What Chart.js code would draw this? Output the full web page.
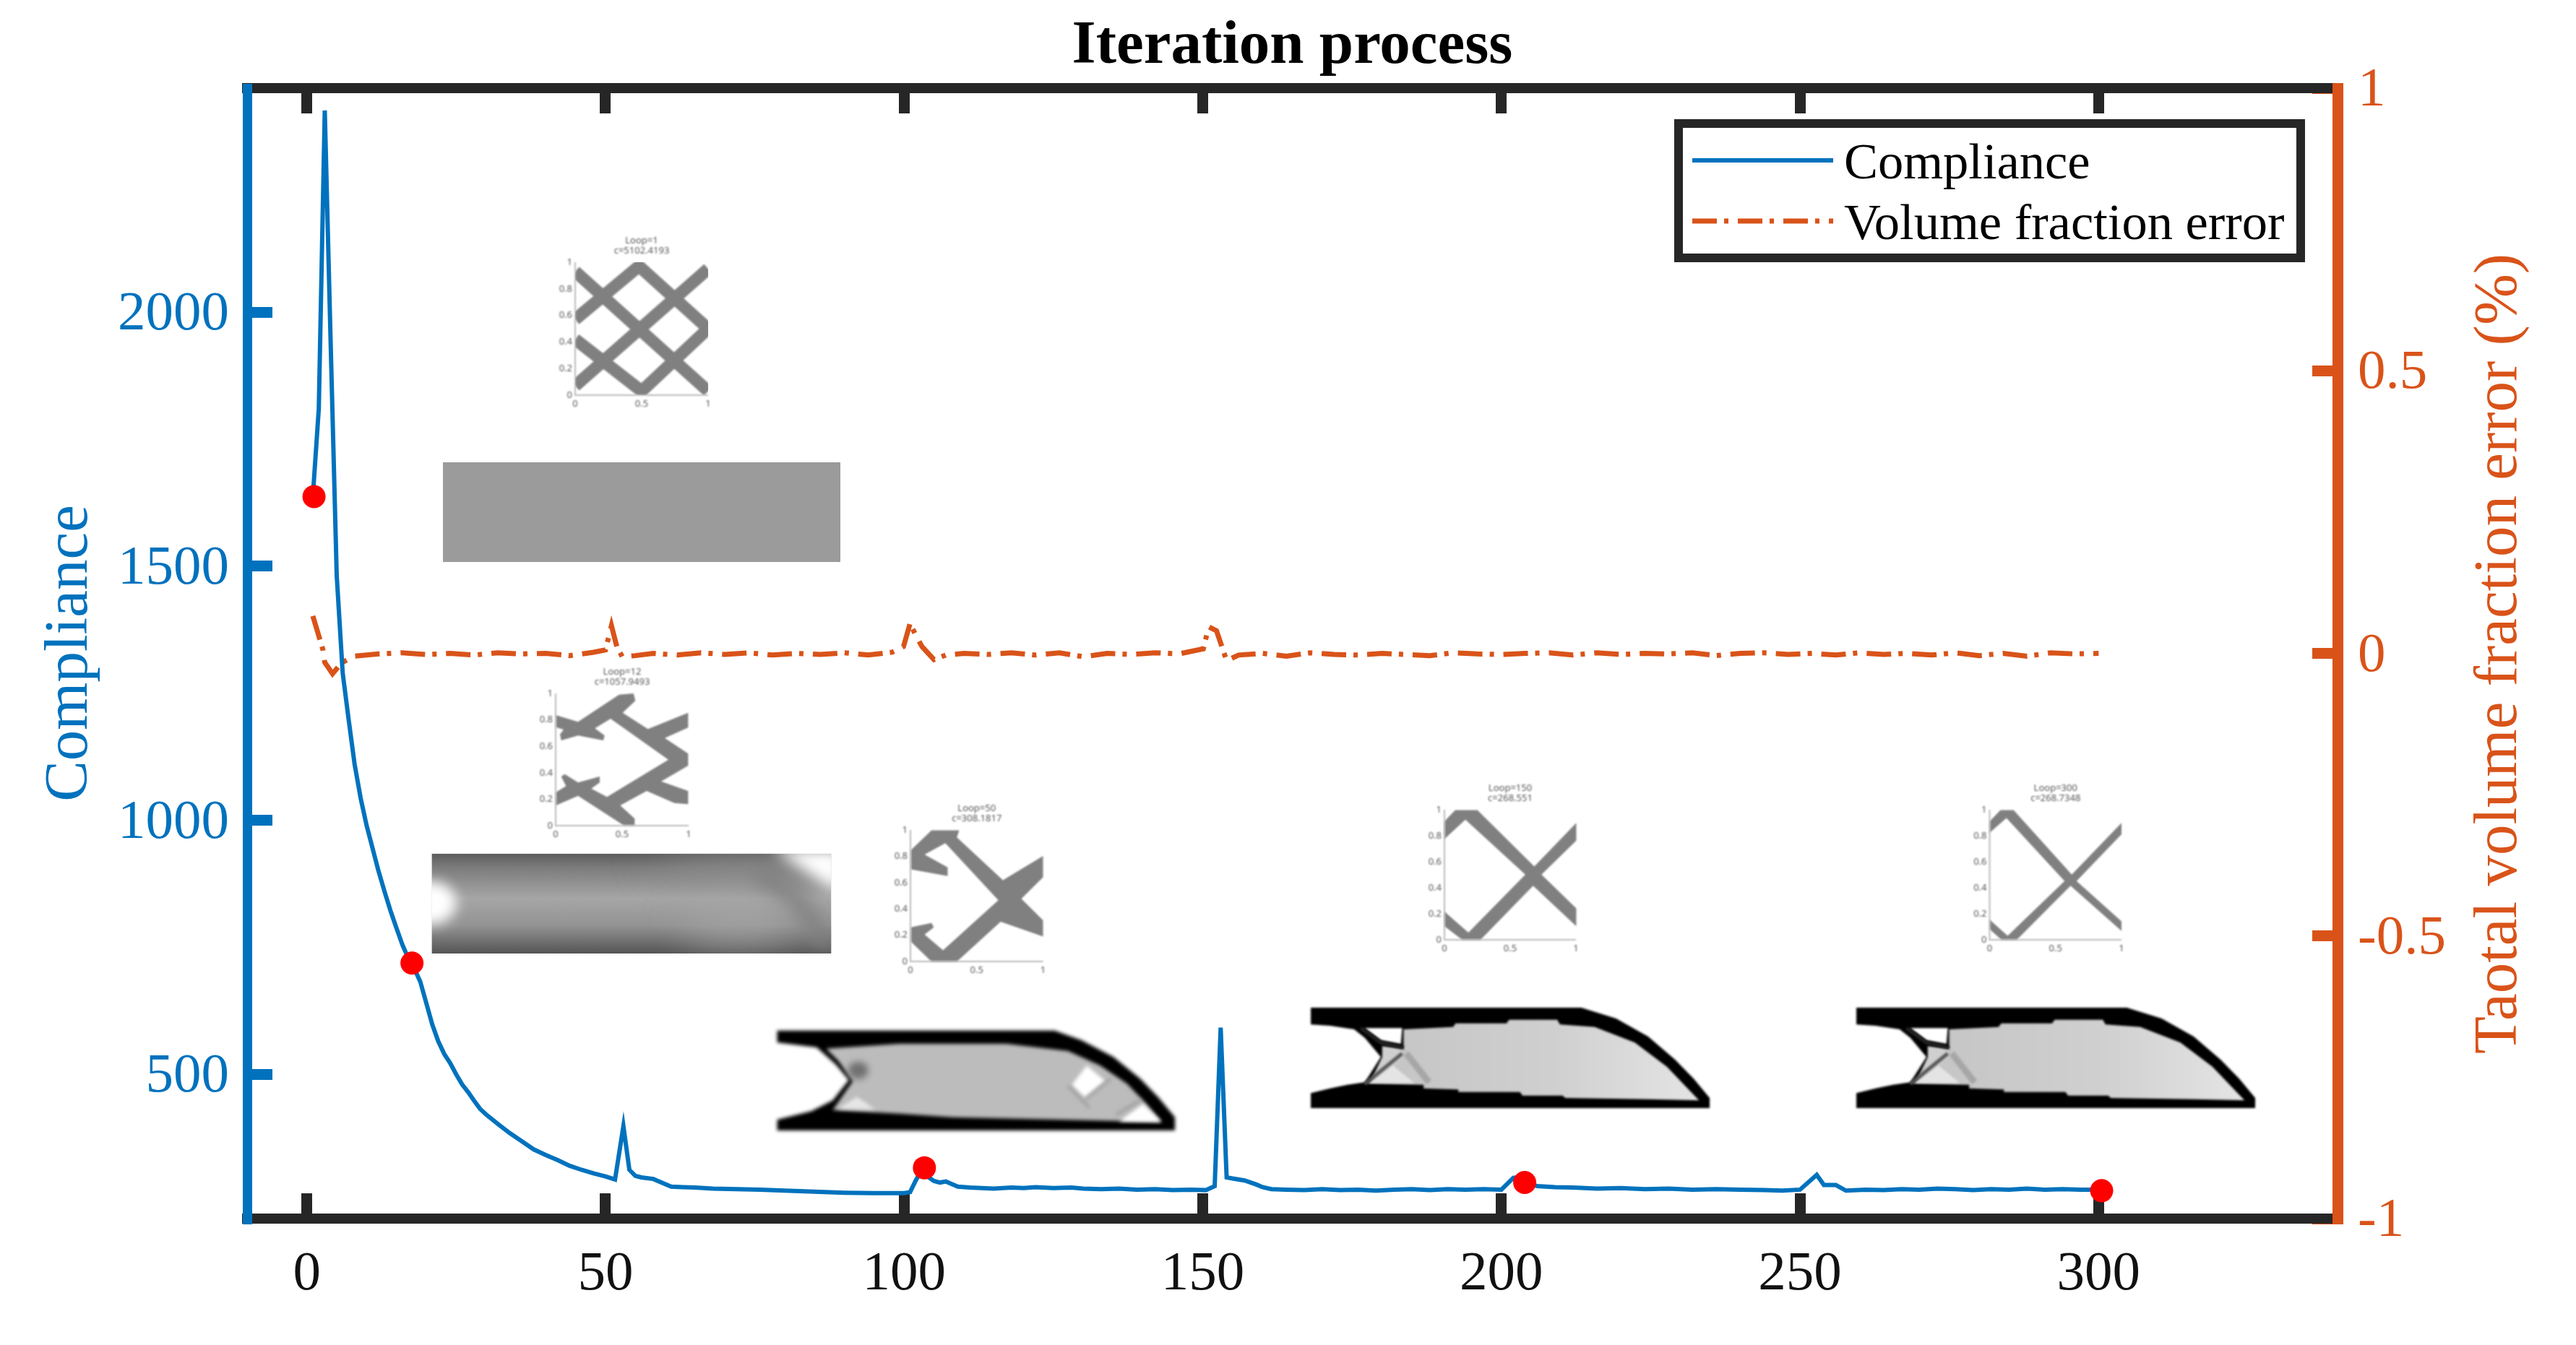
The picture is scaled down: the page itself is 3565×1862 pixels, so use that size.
<!DOCTYPE html>
<html>
<head>
<meta charset="utf-8">
<title>Iteration process</title>
<script src="https://cdn.jsdelivr.net/npm/chart.js@4/dist/chart.umd.js"></script>
<style>
  body { margin: 0; background: #fff; }
  canvas { display: block; }
</style>
</head>
<body>
<canvas id="grafico" width="3565" height="1862"></canvas>
<script>
const BLUE = '#0072BD';
const ORANGE = '#D95319';
const DARK = '#262626';
const SERIF = '"Liberation Serif"';

// tick labels
const xTicks = [0, 50, 100, 150, 200, 250, 300];
const leftTicks = [500, 1000, 1500, 2000];
const rightTicks = [-1, -0.5, 0, 0.5, 1];

// compliance curve
const complianceIter = [1, 2, 3, 4, 5, 6, 7, 8, 9, 10, 11, 12, 13, 14, 15, 16, 17, 18, 19, 20, 21, 22, 23, 24, 25, 26, 27, 28, 29, 30,
  32, 34, 36, 38, 40, 42, 44, 46, 48, 50, 51.6, 53, 54, 55, 56, 58, 60, 61, 63, 65, 68, 72, 76, 80, 85, 90, 95, 100,
  101, 102, 103, 104, 105, 106, 107, 108, 109, 111, 113, 115, 118, 120, 122, 125, 128, 130, 133, 136, 139, 142, 145, 148, 150.5,
  152, 153, 154, 155, 157, 159, 160, 161.5, 164, 167, 170, 173, 176, 179, 182, 185, 188, 191, 194, 197, 200,
  202, 203.5, 205, 206, 209, 212, 216, 220, 224, 228, 232, 236, 240, 244, 247, 250, 252.8, 254, 256, 257.7,
  261, 264, 267, 270, 273, 276, 279, 282, 285, 288, 291, 294, 297, 300];
const complianceValue = [1637, 1810, 2397, 1933, 1482, 1290, 1198, 1110, 1044, 990, 945, 900, 860, 822, 788, 755, 728, 708, 682, 640, 598, 565, 540, 522, 500, 480, 465, 448, 432, 421,
  402, 384, 368, 352, 341, 331, 320, 312, 305, 299, 293, 398, 312, 300, 297, 294, 284, 279, 278, 277, 275, 274, 273, 271, 269, 267, 266, 266,
  268, 292, 312, 298, 290, 287, 289, 284, 279, 277, 276, 275, 277, 276, 278, 276, 277, 275, 274, 275, 273, 274, 272, 273, 272,
  280, 592, 297, 295, 291, 283, 278, 274, 273, 272, 274, 272, 273, 271, 273, 274, 272, 274, 273, 274, 273,
  296, 298, 284, 280, 278, 277, 275, 276, 274, 275, 273, 274, 273, 272, 271, 273, 302, 282, 282, 271,
  273, 272, 274, 273, 275, 274, 272, 274, 273, 275, 273, 274, 273, 273];

// volume fraction error
const errorIter = [1, 2, 2.7, 3, 4.3, 5.9, 8, 12, 16, 20, 24, 28, 32, 36, 40, 44, 48, 50, 51, 51.9, 52.8, 55, 58, 62, 66, 70, 74, 78, 82, 86, 90, 94, 98, 99.9,
  101, 102, 103, 105, 107, 110, 114, 118, 122, 126, 130, 134, 138, 142, 146, 150.1, 151, 152.3, 154, 156, 160, 164, 168, 172, 176, 180, 184, 188, 192, 196, 200,
  204, 208, 212, 216, 220, 224, 228, 232, 236, 240, 244, 248, 252, 256, 260, 264, 268, 272, 276, 280, 284, 288, 292, 296, 300];
const errorValue = [0.066, 0.031, 0.006, -0.016, -0.036, -0.016, -0.005, -0.001, 0.001, -0.002, 0.000, -0.003, 0.001, -0.001, 0.000, -0.004, 0.002, 0.006, 0.049, 0.012, -0.006, -0.004, 0.000, -0.003, 0.001, -0.002, 0.001, -0.003, 0.000, -0.002, 0.001, -0.003, 0.002, 0.012,
  0.053, 0.031, 0.012, -0.011, -0.003, 0.000, -0.002, 0.001, -0.003, 0.001, -0.006, 0.000, -0.002, 0.001, -0.001, 0.008, 0.047, 0.040, -0.013, -0.003, 0.000, -0.005, 0.001, -0.002, -0.003, 0.000, -0.002, -0.004, 0.001, -0.001, -0.002,
  0.000, 0.001, -0.003, 0.001, -0.002, 0.000, -0.001, 0.001, -0.004, 0.000, 0.001, -0.002, 0.000, -0.003, 0.001, -0.002, 0.000, -0.003, 0.001, -0.004, 0.000, -0.005, 0.001, -0.001, 0.000];

// red dots on the curve
const markerIter = [1.2, 17.6, 103.4, 203.9, 300.5];
const markerValue = [1637, 719, 316, 287, 271];

const titleText = 'Iteration process';
const leftTitle = 'Compliance';
const rightTitle = 'Taotal volume fraction error (%)';
const legendLabels = ['Compliance', 'Volume fraction error'];

function pairs(xs, ys) {
  return xs.map((x, i) => ({ x: x, y: ys[i] }));
}

function setTicks(list) {
  return s => { s.ticks = list.map(v => ({ value: v })); };
}

// small plots and density images that sit in the axes
function poly(ctx, pts, fx, fy) {
  ctx.beginPath();
  pts.forEach((p, i) => {
    if (i === 0) ctx.moveTo(fx(p[0]), fy(p[1]));
    else ctx.lineTo(fx(p[0]), fy(p[1]));
  });
  ctx.closePath();
}

function smallPlot(ctx, box, lines) {
  const { l, r, t, b } = box;
  ctx.save();
  ctx.filter = 'blur(1px)';
  ctx.fillStyle = '#555';
  ctx.textAlign = 'center';
  ctx.textBaseline = 'middle';
  ctx.font = '13px "Noto Sans"';
  ctx.fillText(lines[0], (l + r) / 2, t - 30);
  ctx.fillText(lines[1], (l + r) / 2, t - 16);
  ['0', '0.2', '0.4', '0.6', '0.8', '1'].forEach((s, i) => {
    ctx.textAlign = 'right';
    ctx.fillText(s, l - 4, b - (b - t) * i / 5);
  });
  ctx.textAlign = 'center';
  ctx.fillText('0', l, b + 12);
  ctx.fillText('0.5', (l + r) / 2, b + 12);
  ctx.fillText('1', r, b + 12);
  ctx.strokeStyle = '#bbb';
  ctx.lineWidth = 2;
  ctx.beginPath();
  ctx.moveTo(l, t);
  ctx.lineTo(l, b);
  ctx.lineTo(r, b);
  ctx.stroke();
  ctx.restore();
}

function lattice(ctx, box) {
  const { l, r, t, b } = box;
  const fx = v => l + (r - l) * v;
  const fy = v => b - (b - t) * v;
  const bars = [
    [[0, 0.93], [1, 0.03]],
    [[0, 0.07], [1, 0.95]],
    [[0, 0.57], [0.48, 0.97], [1, 0.5], [0.5, 0.03], [0, 0.42]]
  ];
  ctx.save();
  ctx.beginPath();
  ctx.rect(l, t, r - l, b - t);
  ctx.clip();
  ctx.filter = 'blur(1px)';
  ctx.strokeStyle = '#808080';
  ctx.lineWidth = 17;
  bars.forEach(pts => {
    ctx.beginPath();
    pts.forEach((p, i) => {
      if (i === 0) ctx.moveTo(fx(p[0]), fy(p[1]));
      else ctx.lineTo(fx(p[0]), fy(p[1]));
    });
    ctx.stroke();
  });
  ctx.restore();
}

function bones(ctx, pts, fx, fy) {
  ctx.save();
  ctx.filter = 'blur(1px)';
  ctx.fillStyle = '#808080';
  poly(ctx, pts, fx, fy);
  ctx.fill();
  ctx.restore();
}

const loop12Shape = [[88,210],[180,238],[350,125],[410,120],[418,150],[365,200],[470,268],[637,200],[637,262],[540,305],[637,370],[637,420],[525,485],[637,525],[637,580],[580,575],[465,525],[355,585],[415,640],[415,668],[370,668],[180,545],[88,585],[88,530],[130,505],[110,465],[125,455],[180,490],[270,465],[270,490],[235,515],[300,550],[555,395],[315,225],[250,265],[290,295],[285,315],[180,295],[110,315],[105,290],[120,270],[88,260]];
const loop50Shape = [[375,125],[435,125],[430,150],[530,300],[617,215],[617,290],[570,365],[617,440],[617,497],[525,445],[430,585],[375,585],[330,515],[330,465],[375,450],[380,465],[360,490],[400,545],[520,370],[405,170],[360,210],[410,255],[410,285],[330,262],[330,195]];
const loop150Shape = [[258,160],[295,160],[390,335],[460,200],[460,255],[402,360],[460,465],[460,520],[388,395],[300,563],[270,563],[240,520],[240,475],[280,540],[375,360],[275,190],[240,250],[240,195]];
const loop300Shape = [[1168,160],[1190,160],[1287,360],[1370,200],[1370,235],[1295,380],[1370,505],[1370,535],[1285,395],[1195,563],[1170,563],[1150,530],[1150,500],[1180,550],[1275,380],[1178,185],[1150,230],[1150,195]];

const outer50 = [[42,50],[1080,50],[1180,90],[1300,160],[1400,250],[1470,330],[1530,410],[1530,465],[42,465],[42,420],[170,385],[250,340],[310,255],[260,190],[190,120],[42,100]];
const inner50 = [[225,125],[500,105],[900,105],[1130,135],[1250,195],[1350,270],[1420,350],[1480,430],[1100,420],[700,410],[500,395],[250,380],[325,260],[270,175]];
const outerFinal = [[38,45],[1050,45],[1180,90],[1300,165],[1400,260],[1470,340],[1530,420],[1530,462],[38,462],[38,400],[110,380],[175,365],[240,355],[300,250],[240,170],[200,135],[110,120],[38,115]];
const innerFinal = [[385,135],[570,125],[580,110],[770,110],[780,95],[960,95],[970,115],[1100,125],[1250,190],[1370,290],[1490,430],[1300,425],[990,420],[980,410],[830,410],[820,395],[590,395],[590,385],[460,380],[460,365],[250,360],[340,280],[385,230]];

function density50(ctx) {
  const fx = v => 1060 + v / 2.703;
  const fy = v => 1410 + v / 3;
  ctx.save();
  ctx.filter = 'blur(2.5px)';
  ctx.fillStyle = '#000';
  poly(ctx, outer50, fx, fy);
  ctx.fill();
  ctx.fillStyle = '#bcbcbc';
  poly(ctx, inner50, fx, fy);
  ctx.fill();
  ctx.fillStyle = '#fff';
  poly(ctx, [[1200,195],[1270,260],[1195,330],[1145,275]], fx, fy);
  ctx.fill();
  poly(ctx, [[1320,428],[1410,355],[1480,430]], fx, fy);
  ctx.fill();
  ctx.fillStyle = '#e6e6e6';
  poly(ctx, [[270,375],[340,325],[410,378]], fx, fy);
  ctx.fill();
  ctx.strokeStyle = '#a0a0a0';
  ctx.lineWidth = 4;
  ctx.beginPath();
  ctx.moveTo(fx(1130), fy(280));
  ctx.lineTo(fx(1210), fy(370));
  ctx.moveTo(fx(1310), fy(400));
  ctx.lineTo(fx(1400), fy(340));
  ctx.moveTo(fx(1195), fy(335));
  ctx.lineTo(fx(1290), fy(250));
  ctx.stroke();
  ctx.filter = 'blur(5px)';
  ctx.fillStyle = '#707070';
  ctx.beginPath();
  ctx.ellipse(fx(345), fy(215), 14, 12, 0, 0, Math.PI * 2);
  ctx.fill();
  ctx.restore();
}

function densityFinal(ctx, left) {
  const fx = v => left + v / 2.703;
  const fy = v => 1380 + v / 3;
  ctx.save();
  ctx.filter = 'blur(1.5px)';
  ctx.fillStyle = '#000';
  poly(ctx, outerFinal, fx, fy);
  ctx.fill();
  const shade = ctx.createLinearGradient(fx(385), 0, fx(1490), 0);
  shade.addColorStop(0, '#c6c6c6');
  shade.addColorStop(0.5, '#cfcfcf');
  shade.addColorStop(1, '#e4e4e4');
  ctx.fillStyle = shade;
  poly(ctx, innerFinal, fx, fy);
  ctx.fill();
  ctx.fillStyle = '#cfcfcf';
  poly(ctx, [[305,250],[305,205],[390,215],[390,240],[345,290],[262,352]], fx, fy);
  ctx.fill();
  ctx.fillStyle = '#fff';
  poly(ctx, [[240,130],[380,130],[375,195],[300,180]], fx, fy);
  ctx.fill();
  ctx.strokeStyle = '#a6a6a6';
  ctx.lineWidth = 9;
  ctx.beginPath();
  ctx.moveTo(fx(395), fy(235));
  ctx.lineTo(fx(480), fy(355));
  ctx.stroke();
  ctx.fillStyle = '#e4e4e4';
  poly(ctx, [[255,358],[345,285],[425,358]], fx, fy);
  ctx.fill();
  ctx.strokeStyle = '#222';
  ctx.lineWidth = 5;
  ctx.beginPath();
  ctx.moveTo(fx(225), fy(130));
  ctx.lineTo(fx(300), fy(190));
  ctx.lineTo(fx(385), fy(212));
  ctx.stroke();
  ctx.strokeStyle = '#555';
  ctx.beginPath();
  ctx.moveTo(fx(380), fy(235));
  ctx.lineTo(fx(240), fy(362));
  ctx.stroke();
  ctx.restore();
}

function densityLoop12(ctx) {
  const fx = v => 590 + v / 2.703;
  const fy = v => 1170 + v / 3;
  const l = fx(20), r = fx(1515), t = fy(35), b = fy(450);
  ctx.save();
  ctx.beginPath();
  ctx.rect(l, t, r - l, b - t);
  ctx.clip();
  const g = ctx.createLinearGradient(0, t, 0, b);
  g.addColorStop(0, '#5c5c5c');
  g.addColorStop(0.14, '#7c7c7c');
  g.addColorStop(0.45, '#a6a6a6');
  g.addColorStop(0.72, '#939393');
  g.addColorStop(1, '#555');
  ctx.fillStyle = g;
  ctx.fillRect(l, t, r - l, b - t);
  ctx.filter = 'blur(28px)';
  ctx.fillStyle = 'rgba(150,150,150,0.7)';
  poly(ctx, [[800,35],[1300,35],[1400,200],[1000,120]], fx, fy);
  ctx.fill();
  ctx.fillStyle = 'rgba(178,178,178,0.6)';
  poly(ctx, [[950,320],[1250,260],[1420,410],[1000,420]], fx, fy);
  ctx.fill();
  ctx.filter = 'blur(12px)';
  ctx.strokeStyle = '#808080';
  ctx.lineWidth = 22;
  ctx.beginPath();
  ctx.moveTo(fx(1230), fy(100));
  ctx.lineTo(fx(1400), fy(240));
  ctx.lineTo(fx(1500), fy(430));
  ctx.stroke();
  ctx.filter = 'blur(10px)';
  ctx.fillStyle = '#fff';
  poly(ctx, [[1290,15],[1560,15],[1560,190],[1500,170]], fx, fy);
  ctx.fill();
  ctx.filter = 'blur(9px)';
  ctx.beginPath();
  ctx.ellipse(fx(15), fy(240), 36, 30, 0, 0, Math.PI * 2);
  ctx.fill();
  ctx.restore();
}

const insetPlugin = {
  id: 'insets',
  afterDraw(chart) {
    const ctx = chart.ctx;

    const box1 = { l: 796, r: 980, t: 363, b: 547 };
    lattice(ctx, box1);
    smallPlot(ctx, box1, ['Loop=1', 'c=5102.4193']);
    ctx.save();
    ctx.fillStyle = '#9b9b9b';
    ctx.fillRect(613, 640, 550, 138);
    ctx.restore();

    const box2 = { l: 769, r: 953, t: 960, b: 1143 };
    bones(ctx, loop12Shape, v => 740 + v / 3, v => 920 + v / 3);
    smallPlot(ctx, box2, ['Loop=12', 'c=1057.9493']);
    densityLoop12(ctx);

    const box3 = { l: 1260, r: 1443.5, t: 1149, b: 1331 };
    bones(ctx, loop50Shape, v => 1050 + v / 1.568, v => 1100 + v / 2.53);
    smallPlot(ctx, box3, ['Loop=50', 'c=308.1817']);
    density50(ctx);

    const box4 = { l: 1999, r: 2181, t: 1121, b: 1301 };
    bones(ctx, loop150Shape, v => 1800 + v / 1.206, v => 1050 + v / 2.24);
    smallPlot(ctx, box4, ['Loop=150', 'c=268.551']);
    densityFinal(ctx, 1800);

    const box5 = { l: 2753.5, r: 2936, t: 1121, b: 1301 };
    bones(ctx, loop300Shape, v => 1800 + v / 1.206, v => 1050 + v / 2.24);
    smallPlot(ctx, box5, ['Loop=300', 'c=268.7348']);
    densityFinal(ctx, 2555);

    // legend box
    ctx.save();
    ctx.strokeStyle = DARK;
    ctx.lineWidth = 12;
    ctx.strokeRect(2323, 171, 861, 186);
    ctx.fillStyle = '#000';
    ctx.font = '70.5px ' + SERIF;
    ctx.textBaseline = 'middle';
    ctx.fillText(legendLabels[0], 2552, 228);
    ctx.fillText(legendLabels[1], 2552, 312);
    ctx.lineWidth = 6;
    ctx.strokeStyle = BLUE;
    ctx.beginPath();
    ctx.moveTo(2342, 222);
    ctx.lineTo(2537, 222);
    ctx.stroke();
    ctx.lineWidth = 7;
    ctx.strokeStyle = ORANGE;
    ctx.setLineDash([34, 10, 6, 13]);
    ctx.beginPath();
    ctx.moveTo(2342, 306);
    ctx.lineTo(2537, 306);
    ctx.stroke();
    ctx.restore();

    // right axis title reads bottom to top, the library would turn it the other way
    ctx.save();
    ctx.translate(3460, 905);
    ctx.rotate(-Math.PI / 2);
    ctx.fillStyle = ORANGE;
    ctx.font = '85px ' + SERIF;
    ctx.textAlign = 'center';
    ctx.textBaseline = 'middle';
    ctx.fillText(rightTitle, 0, 0);
    ctx.restore();
  }
};

const ctx = document.getElementById('grafico');
const grafico = new Chart(ctx, {
  type: 'scatter',
  data: {
    datasets: [{
      label: legendLabels[0],
      data: pairs(complianceIter, complianceValue),
      showLine: true,
      borderColor: BLUE,
      borderWidth: 6,
      pointRadius: 0,
      yAxisID: 'y',
      xAxisID: 'x',
      order: 2
    }, {
      label: legendLabels[1],
      data: pairs(errorIter, errorValue),
      showLine: true,
      borderColor: ORANGE,
      borderWidth: 7,
      borderDash: [34, 10, 6, 13],
      pointRadius: 0,
      yAxisID: 'y2',
      xAxisID: 'x',
      order: 3
    }, {
      label: 'Selected iterations',
      data: pairs(markerIter, markerValue),
      showLine: false,
      backgroundColor: '#FF0000',
      borderWidth: 0,
      pointRadius: 16,
      yAxisID: 'y',
      xAxisID: 'x',
      order: 1
    }]
  },
  options: {
    responsive: false,
    animation: false,
    layout: { padding: 0 },
    plugins: {
      legend: { display: false },
      tooltip: { enabled: false },
      title: {
        display: true,
        text: titleText,
        color: '#000',
        fullSize: false,
        font: { family: SERIF, size: 85, weight: 'bold', lineHeight: 1 },
        padding: { top: 22.5, bottom: 0 }
      }
    },
    scales: {
      x: {
        type: 'linear',
        position: 'bottom',
        min: -10,
        max: 340,
        afterFit(s) { s.height = 175; },
        afterBuildTicks: setTicks(xTicks),
        border: { color: DARK, width: 14 },
        grid: { drawOnChartArea: false, tickLength: -35, tickWidth: 15, tickColor: DARK, lineWidth: 15 },
        ticks: {
          maxRotation: 0,
          autoSkip: false,
          color: '#111',
          padding: 67,
          font: { family: SERIF, size: 77 },
          callback: v => String(v)
        }
      },
      x2: {
        type: 'linear',
        axis: 'x',
        position: 'top',
        min: -10,
        max: 340,
        afterFit(s) { s.height = 14.5; },
        afterBuildTicks: setTicks(xTicks),
        border: { color: DARK, width: 14 },
        grid: { drawOnChartArea: false, tickLength: -35, tickWidth: 15, tickColor: DARK, lineWidth: 15 },
        ticks: { display: false }
      },
      y: {
        type: 'linear',
        position: 'left',
        min: 216,
        max: 2441,
        afterFit(s) { s.width = 342; },
        afterBuildTicks: setTicks(leftTicks),
        border: { color: BLUE, width: 13, z: 1 },
        grid: { drawOnChartArea: false, tickLength: -35, tickWidth: 15, tickColor: BLUE, lineWidth: 15 },
        title: {
          display: true,
          text: leftTitle,
          color: BLUE,
          font: { family: SERIF, size: 85, lineHeight: 1 },
          padding: { top: 55, bottom: 0 }
        },
        ticks: {
          autoSkip: false,
          labelOffset: 4,
          color: BLUE,
          padding: 60,
          font: { family: SERIF, size: 77 },
          callback: v => String(v)
        }
      },
      y2: {
        type: 'linear',
        position: 'right',
        min: -1,
        max: 1,
        afterFit(s) { s.width = 330; },
        afterBuildTicks: setTicks(rightTicks),
        border: { color: ORANGE, width: 15, z: 1 },
        grid: { drawOnChartArea: false, tickLength: -35, tickWidth: 15, tickColor: ORANGE, lineWidth: 15 },
        ticks: {
          autoSkip: false,
          labelOffset: 4,
          color: ORANGE,
          padding: 63,
          font: { family: SERIF, size: 77 },
          callback: v => String(v)
        }
      }
    }
  },
  plugins: [insetPlugin]
});
</script>
</body>
</html>
